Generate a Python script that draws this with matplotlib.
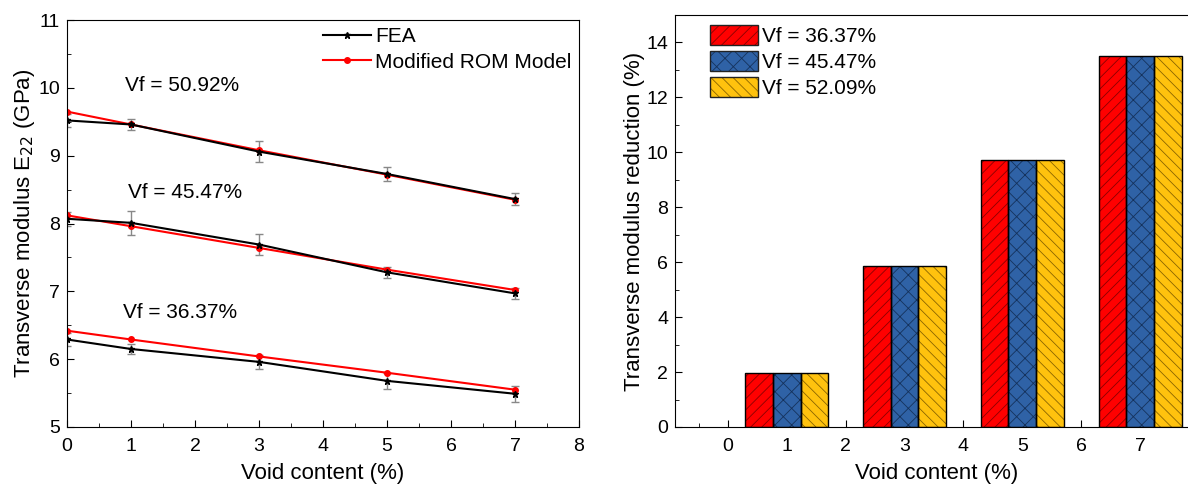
import numpy as np
import matplotlib
matplotlib.use("Agg")
import matplotlib.pyplot as plt
from matplotlib.ticker import MultipleLocator
from matplotlib.patches import Patch
from matplotlib.legend_handler import HandlerTuple

plt.rcParams['font.family'] = ['Liberation Sans', 'DejaVu Sans']
plt.rcParams['hatch.linewidth'] = 0.6

# left panel data
void = [0, 1, 3, 5, 7]
vf_labels = ["Vf = 50.92%", "Vf = 45.47%", "Vf = 36.37%"]
fea_5092 = [9.52, 9.46, 9.06, 8.73, 8.36]
rom_5092 = [9.65, 9.46, 9.08, 8.72, 8.35]
err_5092 = [0.10, 0.08, 0.15, 0.11, 0.09]
fea_4547 = [8.07, 8.01, 7.69, 7.28, 6.97]
rom_4547 = [8.12, 7.96, 7.64, 7.32, 7.02]
err_4547 = [0.10, 0.18, 0.15, 0.08, 0.08]
fea_3637 = [6.29, 6.15, 5.96, 5.68, 5.49]
rom_3637 = [6.42, 6.29, 6.04, 5.80, 5.55]
err_3637 = [0.10, 0.08, 0.10, 0.12, 0.12]

# right panel data
bar_void = [1, 3, 5, 7]
bar_labels = ["Vf = 36.37%", "Vf = 45.47%", "Vf = 52.09%"]
red_vals = [1.97, 5.88, 9.72, 13.5]
blue_vals = [1.97, 5.88, 9.72, 13.5]
yel_vals = [1.97, 5.88, 9.72, 13.5]

fig = plt.figure(figsize=(11.88, 4.86), dpi=100)
ax1 = fig.add_axes([0.0564, 0.1214, 0.4310, 0.8374])
ax2 = fig.add_axes([0.5682, 0.1214, 0.441, 0.8477])

fea_all = [fea_5092, fea_4547, fea_3637]
rom_all = [rom_5092, rom_4547, rom_3637]
err_all = [err_5092, err_4547, err_3637]
for i in range(3):
    ax1.errorbar(void, fea_all[i], yerr=err_all[i], fmt='none', ecolor='#888888',
                 elinewidth=1, capsize=3, capthick=1, zorder=1)
    ax1.plot(void, rom_all[i], color='red', marker='o', ms=4, lw=1.5,
             label='Modified ROM Model' if i == 0 else None, zorder=2)
    ax1.plot(void, fea_all[i], color='black', marker='*', ms=5, lw=1.5,
             label='FEA' if i == 0 else None, zorder=3)

ax1.text(0.9, 10.04, vf_labels[0], fontsize=15, va='center')
ax1.text(0.95, 8.46, vf_labels[1], fontsize=15, va='center')
ax1.text(0.87, 6.69, vf_labels[2], fontsize=15, va='center')

h, l = ax1.get_legend_handles_labels()
ax1.legend([h[1], h[0]], [l[1], l[0]], loc='upper right', frameon=False, fontsize=15,
           handlelength=2.3, borderaxespad=0.05, borderpad=0.3, handletextpad=0.2,
           labelspacing=0.3)
ax1.set_xlim(0, 8)
ax1.set_ylim(5, 11)
ax1.xaxis.set_major_locator(MultipleLocator(1))
ax1.xaxis.set_minor_locator(MultipleLocator(0.5))
ax1.yaxis.set_major_locator(MultipleLocator(1))
ax1.yaxis.set_minor_locator(MultipleLocator(0.5))
ax1.tick_params(direction='in', which='both', labelsize=14)
ax1.tick_params(axis='x', pad=8)
ax1.tick_params(axis='y', pad=5)
ax1.tick_params(which='major', length=5)
ax1.tick_params(which='minor', length=3)
ax1.set_xlabel("Void content (%)", fontsize=16, labelpad=6)
ax1.set_ylabel("Transverse modulus E$_{22}$ (GPa)", fontsize=16, labelpad=1)

# bars
w = 0.47
bx = np.array(bar_void, dtype=float)
series = [(red_vals, '#FF0000', '#8B0000', '///'),
          (blue_vals, '#2F62A6', '#15325C', 'xx'),
          (yel_vals, '#FFC20E', '#8A6500', '\\\\\\')]
handles = []
for k, (vals, fc, hc, hatch) in enumerate(series):
    pos = bx + (k - 1) * w
    ax2.bar(pos, vals, width=w, color=fc, edgecolor=hc, hatch=hatch, linewidth=0, zorder=2)
    ax2.bar(pos, vals, width=w, fill=False, edgecolor='black', linewidth=1, zorder=3)
    handles.append((Patch(facecolor=fc, edgecolor=hc, hatch=hatch, linewidth=0),
                    Patch(fill=False, edgecolor='#222222', linewidth=1)))

ax2.legend(handles, bar_labels, loc='upper left', fontsize=15, frameon=False,
           handler_map={tuple: HandlerTuple(ndivide=1, pad=0)},
           handlelength=2.3, handleheight=1.05, labelspacing=0.25,
           handletextpad=0.2, borderaxespad=0.0, borderpad=0.3,
           bbox_to_anchor=(0.055, 0.99))
ax2.set_xlim(-0.9, 8)
ax2.set_ylim(0, 15)
ax2.xaxis.set_major_locator(MultipleLocator(1))
ax2.xaxis.set_minor_locator(MultipleLocator(0.5))
ax2.yaxis.set_major_locator(MultipleLocator(2))
ax2.yaxis.set_minor_locator(MultipleLocator(1))
ax2.tick_params(direction='in', which='both', labelsize=14)
ax2.tick_params(axis='x', pad=8)
ax2.tick_params(axis='y', pad=5)
ax2.tick_params(which='major', length=5)
ax2.tick_params(which='minor', length=3)
ax2.set_xlabel("Void content (%)", fontsize=16, labelpad=6)
ax2.set_ylabel("Transverse modulus reduction (%)", fontsize=16, labelpad=1)
ax2.set_xticks([0, 1, 2, 3, 4, 5, 6, 7])

fig.savefig("out.png", dpi=100)
